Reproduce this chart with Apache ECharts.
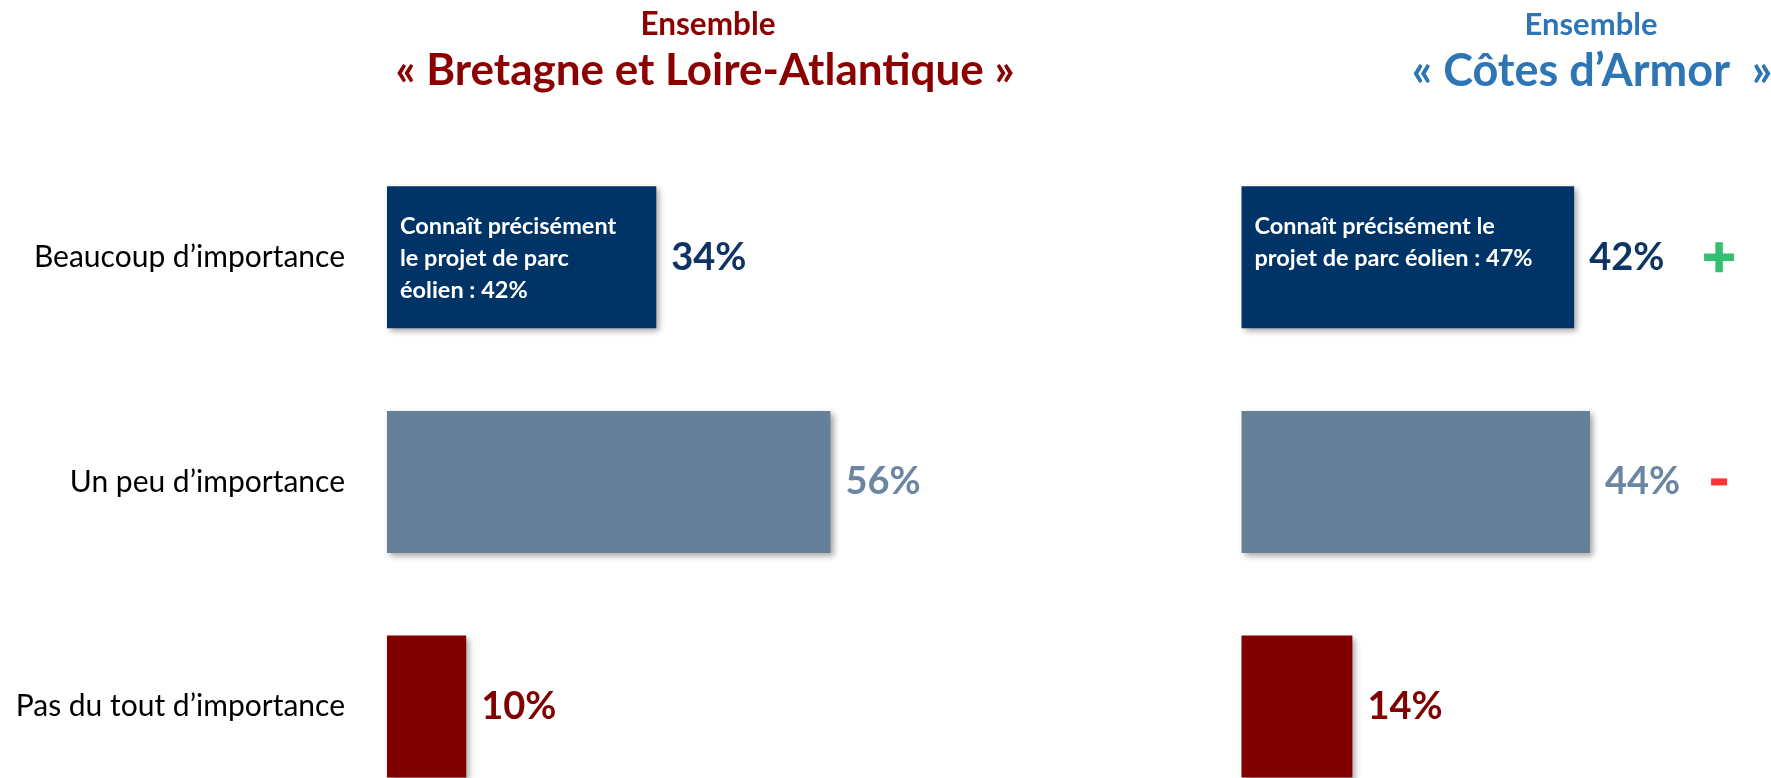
<!DOCTYPE html>
<html>
<head>
<meta charset="utf-8">
<script src="https://cdn.jsdelivr.net/npm/echarts@6/dist/echarts.min.js"></script>
<style>
html,body{margin:0;padding:0;background:#fff;}
#chart{width:1771px;height:778px;}
</style>
</head>
<body>
<div id="chart"></div>
<script>
// ---- data ----
const categories = ['Beaucoup d\u2019importance', 'Un peu d\u2019importance', 'Pas du tout d\u2019importance'];
const valuesBretagne = [34, 56, 10];
const valuesCotes = [42, 44, 14];
const notesBretagne = ['Connaît précisément\nle projet de parc\néolien : 42%', '', ''];
const notesCotes = ['Connaît précisément le\nprojet de parc éolien : 47%', '', ''];
const signsCotes = ['+', '-', ''];
const titleLeftTop = 'Ensemble';
const titleLeftMain = '\u00AB Bretagne et Loire-Atlantique \u00BB';
const titleRightTop = 'Ensemble';
const titleRightMain = '\u00AB C\u00F4tes d\u2019Armor  \u00BB';

// ---- styles ----
const barColors = ['#003366', '#67809a', '#800000'];
const labelColors = ['#0f3463', '#6b86a3', '#800000'];
const FONT = 'Lato, "Open Sans", sans-serif';
const SIGN_X = 60.3;
const X_MAX = 65;
const PX_PER_UNIT = 7.92;

const chart = echarts.init(document.getElementById('chart'), null, {renderer: 'canvas'});

function mainSeries(vals, gridIdx) {
  return {
    type: 'bar',
    xAxisIndex: gridIdx, yAxisIndex: gridIdx,
    barWidth: 142,
    barGap: '-100%',
    clip: false,
    data: vals.map((v, i) => ({
      value: v,
      itemStyle: {
        color: barColors[i],
        shadowColor: 'rgba(0,0,0,0.35)', shadowBlur: 6, shadowOffsetX: 3, shadowOffsetY: 3
      },
      label: {color: labelColors[i]}
    })),
    label: {
      show: true, position: 'right', distance: 15,
      formatter: '{c}%', fontFamily: FONT, fontWeight: 'bold', fontSize: 38
    },
    silent: true,
    animation: false
  };
}
function noteSeries(vals, notes, gridIdx) {
  return {
    type: 'bar',
    xAxisIndex: gridIdx, yAxisIndex: gridIdx,
    barWidth: 142,
    barGap: '-100%',
    clip: false,
    z: 5,
    data: vals,
    itemStyle: {color: 'rgba(0,0,0,0)'},
    label: {
      show: true, position: 'insideTopLeft', distance: 0,
      padding: [24.5, 0, 0, 13],
      formatter: p => notes[p.dataIndex],
      color: '#ffffff', fontFamily: FONT, fontWeight: 'bold', fontSize: 23.5, lineHeight: 32
    },
    silent: true,
    animation: false
  };
}

const signData = [];
signsCotes.forEach((s, i) => {
  if (s === '+') signData.push({value: [SIGN_X, categories[i]], symbol: 'path://M3,0h2v3h3v2h-3v3h-2v-3h-3v-2h3z', symbolSize: 30, itemStyle: {color: '#00b050'}});
  if (s === '-') signData.push({value: [SIGN_X, categories[i]], symbol: 'rect', symbolSize: [16, 7], itemStyle: {color: '#ff0000'}});
});

const gridCommon = {top: 257.3, height: 449.2, width: X_MAX * PX_PER_UNIT, containLabel: false};

const option = {
  backgroundColor: '#ffffff',
  animation: false,
  title: [
    {text: titleLeftTop, left: 703, top: 4, textAlign: 'center',
     textStyle: {color: '#8b0000', fontFamily: FONT, fontWeight: 'bold', fontSize: 31.5}},
    {text: titleLeftMain, left: 700, top: 44, textAlign: 'center',
     textStyle: {color: '#8b0000', fontFamily: FONT, fontWeight: 'bold', fontSize: 44}},
    {text: titleRightTop, left: 1586, top: 4, textAlign: 'center',
     textStyle: {color: '#2e75b6', fontFamily: FONT, fontWeight: 'bold', fontSize: 31}},
    {text: titleRightMain, left: 1587, top: 43.5, textAlign: 'center',
     textStyle: {color: '#2e75b6', fontFamily: FONT, fontWeight: 'bold', fontSize: 45}}
  ],
  grid: [
    Object.assign({left: 387}, gridCommon),
    Object.assign({left: 1241.5}, gridCommon)
  ],
  xAxis: [
    {gridIndex: 0, type: 'value', min: 0, max: X_MAX, show: false},
    {gridIndex: 1, type: 'value', min: 0, max: X_MAX, show: false}
  ],
  yAxis: [
    {gridIndex: 0, type: 'category', data: categories, inverse: true, boundaryGap: false,
     axisLine: {show: false}, axisTick: {show: false}, splitLine: {show: false},
     axisLabel: {show: true, margin: 42, color: '#000000', fontFamily: FONT, fontSize: 30}},
    {gridIndex: 1, type: 'category', data: categories, inverse: true, boundaryGap: false,
     axisLine: {show: false}, axisTick: {show: false}, splitLine: {show: false},
     axisLabel: {show: false}}
  ],
  series: [
    mainSeries(valuesBretagne, 0),
    noteSeries(valuesBretagne, notesBretagne, 0),
    mainSeries(valuesCotes, 1),
    noteSeries(valuesCotes, notesCotes, 1),
    {
      type: 'scatter', xAxisIndex: 1, yAxisIndex: 1,
      data: signData, silent: true, animation: false, z: 6
    }
  ]
};
chart.setOption(option);
</script>
</body>
</html>
